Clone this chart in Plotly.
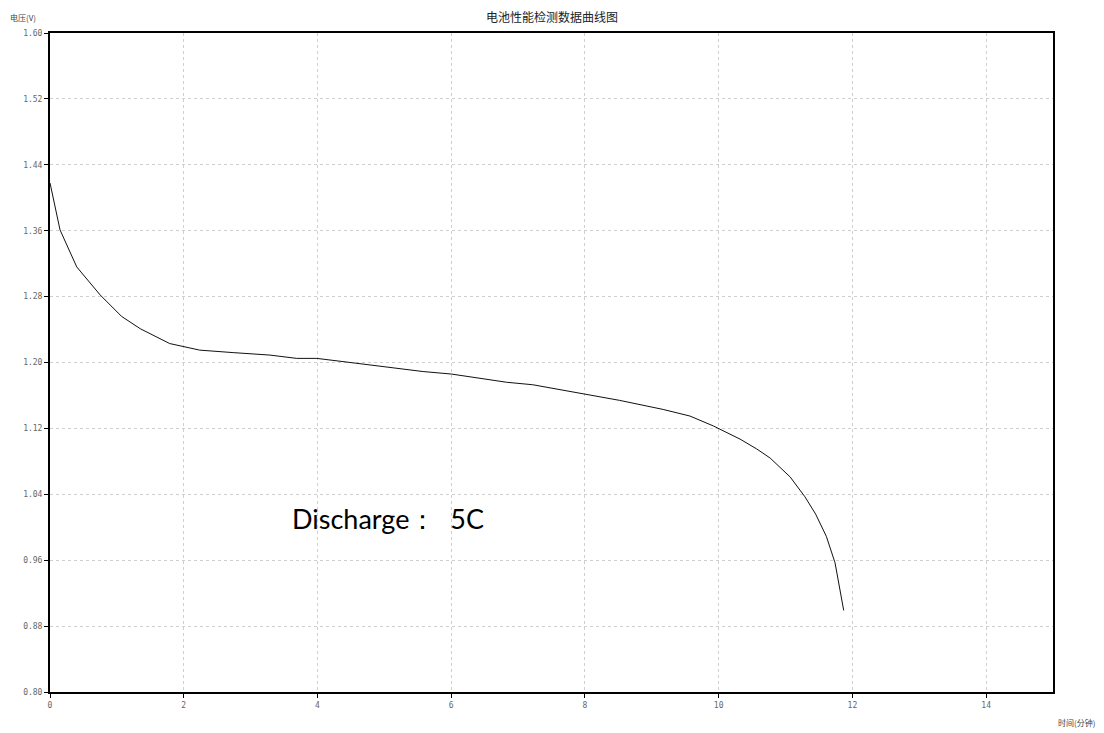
import plotly.graph_objects as go

time_min = [0, 0.15, 0.4, 0.75, 1.07, 1.35, 1.79, 2.24, 2.74, 3.29, 3.69, 3.99, 4.59, 5.05,
            5.58, 6.0, 6.58, 6.83, 7.22, 7.63, 7.93, 8.52, 9.17, 9.57, 9.92, 10.32, 10.57,
            10.77, 11.07, 11.29, 11.45, 11.61, 11.74, 11.87]
voltage = [1.418, 1.361, 1.316, 1.282, 1.256, 1.241, 1.223, 1.215, 1.212, 1.209, 1.205,
           1.205, 1.199, 1.194, 1.189, 1.186, 1.179, 1.176, 1.173, 1.167, 1.162, 1.154,
           1.143, 1.135, 1.123, 1.107, 1.095, 1.084, 1.061, 1.037, 1.016, 0.989, 0.957, 0.899]

x_ticks = [0, 2, 4, 6, 8, 10, 12, 14]
y_ticks = [0.80, 0.88, 0.96, 1.04, 1.12, 1.20, 1.28, 1.36, 1.44, 1.52, 1.60]

title_text = "电池性能检测数据曲线图"
y_title = "电压(V)"
x_title = "时间(分钟)"
note_text = "Discharge：  5C"

cjk = "Noto Sans CJK SC"
tick_font = dict(family="DejaVu Sans Mono", size=8, color="#666666")

# page body has an 8px margin; size the figure so the plot box lands where the reference has it
OFF = 8
W, H = 1104 - OFF, 733 - OFF
L, T = 50 - OFF, 33 - OFF
PW, PH = 1003, 659
R = W - L - PW
B = H - T - PH

fig = go.Figure()
fig.add_trace(go.Scatter(x=time_min, y=voltage, mode="lines",
                         line=dict(color="#111111", width=1), showlegend=False,
                         hoverinfo="x+y"))

fig.update_layout(
    width=W, height=H,
    margin=dict(l=L, r=R, t=T, b=B),
    paper_bgcolor="white", plot_bgcolor="white",
)

grid = dict(showgrid=True, gridcolor="#cfcfcf", griddash="3px,3px", gridwidth=1,
            showline=True, linecolor="black", linewidth=2, mirror=True,
            ticks="outside", ticklen=4, tickcolor="black", tickwidth=1,
            tickfont=tick_font, zeroline=False, fixedrange=True)

fig.update_xaxes(range=[0, 15], tickvals=x_ticks, ticktext=[str(v) for v in x_ticks], **grid)
fig.update_yaxes(range=[0.80, 1.60], tickvals=y_ticks,
                 ticktext=["%.2f" % v for v in y_ticks], **grid)

fig.add_annotation(text=title_text, xref="paper", yref="paper", x=(552 - 50) / PW,
                   y=1 + (33 - 16) / PH, xanchor="center", yanchor="middle", showarrow=False,
                   font=dict(family=cjk, size=12, color="#222222"))
fig.add_annotation(text=y_title, xref="paper", yref="paper", x=-(50 - 8) / PW, y=1 + 16 / PH,
                   xanchor="left", yanchor="middle", showarrow=False,
                   font=dict(family=cjk, size=8, color="#444444"))
fig.add_annotation(text=x_title, xref="paper", yref="paper", x=1 + 44 / PW, y=-30 / PH,
                   xanchor="right", yanchor="middle", showarrow=False,
                   font=dict(family=cjk, size=8, color="#444444"))
fig.add_annotation(text=note_text, x=3.59, y=1.011, xref="x", yref="y",
                   xanchor="left", yanchor="middle", showarrow=False,
                   font=dict(family="Lato", size=27, color="black"))

fig.write_html("out.html")
